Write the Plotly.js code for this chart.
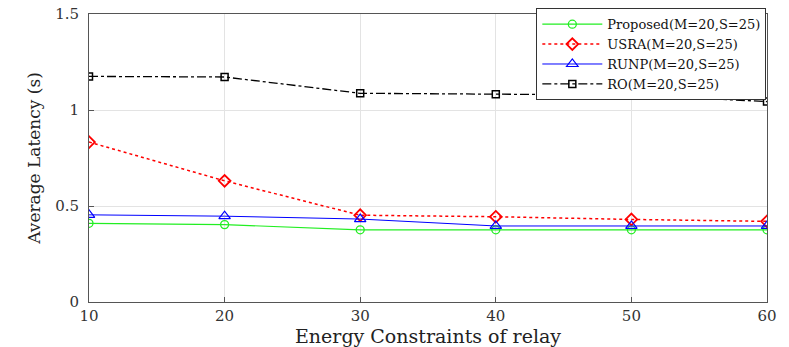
<!DOCTYPE html>
<html>
<head>
<meta charset="utf-8">
<script src="https://cdn.plot.ly/plotly-3.0.1.min.js"></script>
<style>body{margin:0;background:#fff}#chart{width:789px;height:347px}</style>
</head>
<body>
<div id="chart"></div>
<script>
var relayEnergy = [10, 20, 30, 40, 50, 60];
var proposed = [0.410, 0.403, 0.376, 0.376, 0.376, 0.376];
var usra = [0.833, 0.631, 0.452, 0.444, 0.430, 0.420];
var runp = [0.454, 0.447, 0.432, 0.396, 0.396, 0.396];
var ro = [1.175, 1.172, 1.087, 1.082, 1.078, 1.044];

var serif = 'DejaVu Serif';

var trace1 = {
  x: relayEnergy, y: proposed, name: 'Proposed(M=20,S=25)',
  type: 'scatter', mode: 'lines+markers',
  line: {color: '#22ee22', width: 1.2},
  marker: {symbol: 'circle-open', size: 8, color: '#22ee22', line: {width: 1.3}}
};
var trace2 = {
  x: relayEnergy, y: usra, name: 'USRA(M=20,S=25)',
  type: 'scatter', mode: 'lines+markers',
  line: {color: '#ff0000', width: 1.5, dash: 'dot'},
  marker: {symbol: 'diamond-open', size: 9, color: '#ff0000', line: {width: 1.8}}
};
var trace3 = {
  x: relayEnergy, y: runp, name: 'RUNP(M=20,S=25)',
  type: 'scatter', mode: 'lines+markers',
  line: {color: '#0000ff', width: 1},
  marker: {symbol: 'triangle-up-open', size: 10, color: '#0000ff', line: {width: 1.2}}
};
var trace4 = {
  x: relayEnergy, y: ro, name: 'RO(M=20,S=25)',
  type: 'scatter', mode: 'lines+markers',
  line: {color: '#000000', width: 1.3, dash: 'dashdot'},
  marker: {symbol: 'square-open', size: 7, color: '#000000', line: {width: 1.5}}
};

var data = [trace1, trace2, trace3, trace4];
var layout = {
  width: 789, height: 347,
  margin: {l: 89, r: 22, t: 8, b: 45},
  paper_bgcolor: '#fff', plot_bgcolor: '#fff',
  font: {family: serif, color: '#222', size: 16},
  showlegend: true,
  legend: {
    x: 0.999, xanchor: 'right', y: 1.02, yanchor: 'top',
    bgcolor: '#fff', bordercolor: '#333', borderwidth: 1,
    font: {family: serif, size: 13, color: '#111'},
    itemwidth: 60, tracegroupgap: 0
  },
  xaxis: {
    range: [10, 60], dtick: 10, tick0: 10,
    title: {text: 'Energy Constraints of relay', font: {family: serif, size: 19, color: '#222'}, standoff: 0},
    automargin: false,
    showgrid: true, gridcolor: '#e3e3e3', gridwidth: 1,
    showline: true, linecolor: '#555', linewidth: 1, mirror: true,
    ticks: 'inside', ticklen: 5, tickcolor: '#555',
    tickfont: {family: serif, size: 15, color: '#333'},
    zeroline: false
  },
  yaxis: {
    range: [0, 1.5], dtick: 0.5,
    title: {text: 'Average Latency (s)', font: {family: serif, size: 17, color: '#222'}, standoff: 10},
    automargin: false,
    showgrid: true, gridcolor: '#e3e3e3', gridwidth: 1,
    showline: true, linecolor: '#555', linewidth: 1, mirror: true,
    ticks: 'inside', ticklen: 5, tickcolor: '#555',
    tickfont: {family: serif, size: 15, color: '#333'},
    ticklabelstandoff: 6,
    zeroline: false
  }
};
var config = {responsive: false, displayModeBar: false};
Plotly.newPlot('chart', data, layout, config);
</script>
</body>
</html>
